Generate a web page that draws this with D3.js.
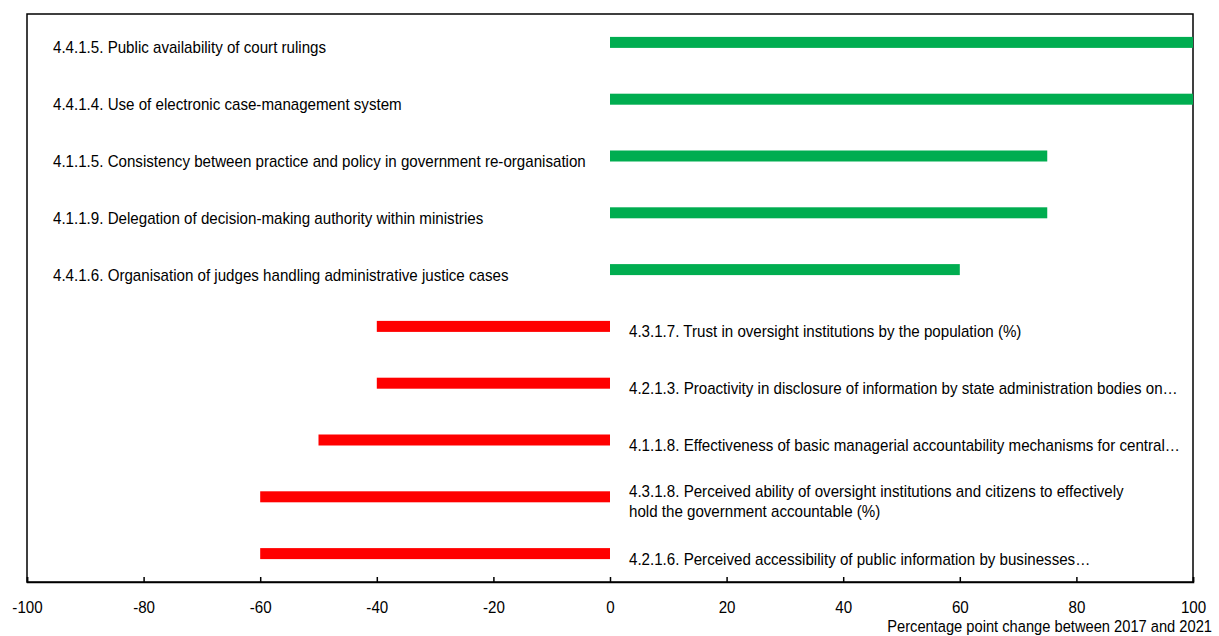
<!DOCTYPE html>
<html><head><meta charset="utf-8">
<script src="https://cdn.jsdelivr.net/npm/d3@7"></script>
<style>
body{margin:0;background:#fff;}
text{font-family:"Liberation Sans",Arial,sans-serif;fill:#000;}
</style></head>
<body><svg id="c" width="1219" height="636"></svg>
<script>
const categories = [
  "4.4.1.5. Public availability of court rulings",
  "4.4.1.4. Use of electronic case-management system",
  "4.1.1.5. Consistency between practice and policy in government re-organisation",
  "4.1.1.9. Delegation of decision-making authority within ministries",
  "4.4.1.6. Organisation of judges handling administrative justice cases",
  "4.3.1.7. Trust in oversight institutions by the population (%)",
  "4.2.1.3. Proactivity in disclosure of information by state administration bodies on…",
  "4.1.1.8. Effectiveness of basic managerial accountability mechanisms for central…",
  "4.3.1.8. Perceived ability of oversight institutions and citizens to effectively|hold the government accountable (%)",
  "4.2.1.6. Perceived accessibility of public information by businesses…"
];
const values = [100, 100, 75, 75, 60, -40, -40, -50, -60, -60];
const tickValues = [-100, -80, -60, -40, -20, 0, 20, 40, 60, 80, 100];
const axisTitle = "Percentage point change between 2017 and 2021";

const svg = d3.select("#c");
const L = 27, R = 1193, T = 14, B = 582;
const SX = 0.89, FS = 17;
const x = d3.scaleLinear().domain([-100, 100]).range([L, R]);
const y = d3.scaleBand().domain(categories).range([T, B]).padding(0);
const barH = 11;

// frame
svg.append("rect").attr("x", L).attr("y", T).attr("width", R - L).attr("height", B - T)
  .attr("fill", "none").attr("stroke", "#000").attr("stroke-width", 1.5);

// bars
svg.selectAll("rect.bar").data(values).enter().append("rect")
  .attr("class", "bar")
  .attr("x", d => x(Math.min(0, d)))
  .attr("width", d => Math.abs(x(d) - x(0)))
  .attr("y", (d, i) => y(categories[i]) + y.bandwidth() / 2 - barH / 2)
  .attr("height", barH)
  .attr("fill", d => d >= 0 ? "#00AD50" : "#FF0000");

// labels
const lab = svg.selectAll("text.lab").data(categories).enter().append("text")
  .attr("class", "lab")
  .attr("font-size", FS)
  .attr("transform", (d, i) => {
    const lx = values[i] >= 0 ? 53 : x(0) + 19;
    const ly = y(d) + y.bandwidth() / 2 + 5;
    return `translate(${lx},${ly}) scale(${SX},1)`;
  });
lab.each(function(d) {
  const parts = d.split("|");
  const t = d3.select(this);
  if (parts.length === 1) {
    t.append("tspan").attr("x", 0).attr("dy", "0.35em").text(parts[0]);
  } else {
    parts.forEach((p, k) => {
      t.append("tspan").attr("x", 0).attr("dy", k === 0 ? "-0.3em" : "1.2em").text(p);
    });
  }
});

// axis
const ax = svg.append("g").attr("transform", `translate(0,${B})`)
  .call(d3.axisBottom(x).tickValues(tickValues).tickSize(-5).tickPadding(19).tickFormat(d => String(d)));
ax.select(".domain").attr("stroke", "#000").attr("stroke-width", 1.5);
ax.selectAll(".tick line").attr("stroke", "#000").attr("stroke-width", 1.5);
ax.selectAll(".tick text").attr("font-size", FS).attr("font-family", "Liberation Sans, Arial, sans-serif")
  .attr("fill", "#000").attr("y", 19).attr("transform", `scale(${SX},1)`);

svg.append("text").attr("transform", `translate(1212,632) scale(${SX},1)`).attr("text-anchor", "end")
  .attr("font-size", 16.5).text(axisTitle);
</script></body></html>
